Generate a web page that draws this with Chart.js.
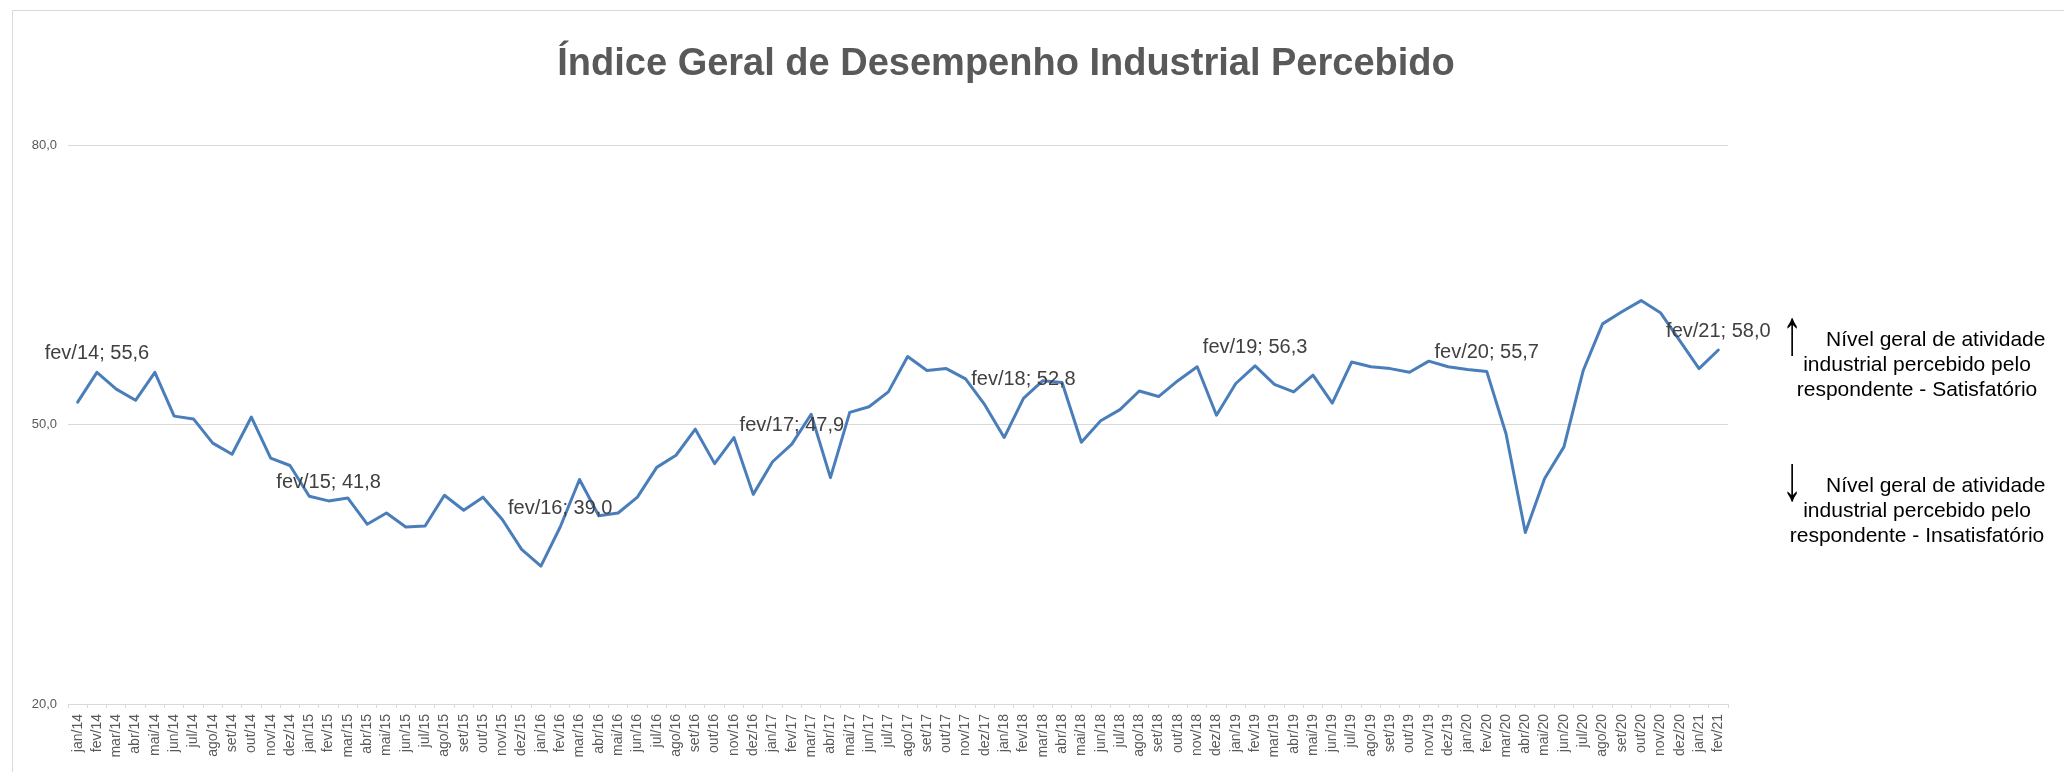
<!DOCTYPE html>
<html lang="pt-BR">
<head>
<meta charset="utf-8">
<title>Índice Geral de Desempenho Industrial Percebido</title>
<script src="https://cdn.jsdelivr.net/npm/chart.js@4.4.1/dist/chart.umd.min.js"></script>
<style>
    html, body { margin: 0; padding: 0; background: #fff; }
    #wrap { position: relative; width: 2064px; height: 772px; }
</style>
</head>
<body>
<div id="wrap"><canvas id="chart"></canvas></div>
<script>
// Eixo X: meses e anos
const monthNames = ['jan', 'fev', 'mar', 'abr', 'mai', 'jun', 'jul', 'ago', 'set', 'out', 'nov', 'dez'];
const years = ['14', '15', '16', '17', '18', '19', '20', '21'];

// Índice por ano (jan..dez)
const values2014 = [52.4, 55.6, 53.8, 52.6, 55.6, 50.9, 50.6, 48.0, 46.8, 50.8, 46.4, 45.6];
const values2015 = [42.3, 41.8, 42.1, 39.3, 40.5, 39.0, 39.1, 42.4, 40.8, 42.2, 39.8, 36.6];
const values2016 = [34.8, 39.0, 44.1, 40.2, 40.5, 42.2, 45.4, 46.7, 49.5, 45.8, 48.6, 42.5];
const values2017 = [46.0, 47.9, 51.1, 44.3, 51.3, 51.9, 53.5, 57.3, 55.8, 56.0, 54.9, 52.1];
const values2018 = [48.6, 52.8, 54.7, 54.5, 48.1, 50.4, 51.6, 53.6, 53.0, 54.7, 56.2, 51.0];
const values2019 = [54.4, 56.3, 54.3, 53.5, 55.3, 52.3, 56.7, 56.2, 56.0, 55.6, 56.8, 56.2];
const values2020 = [55.9, 55.7, 49.0, 38.4, 44.2, 47.6, 55.8, 60.8, 62.1, 63.3, 62.0, 59.0];
const values2021 = [56.0, 58.0];

// Eixo Y
const yTicks = [20, 50, 80];

// Pontos com rótulo
const labelledMonths = ['fev/14', 'fev/15', 'fev/16', 'fev/17', 'fev/18', 'fev/19', 'fev/20', 'fev/21'];

// Textos
const chartTitle = 'Índice Geral de Desempenho Industrial Percebido';
const noteUp = ['Nível geral de atividade', 'industrial percebido pelo', 'respondente - Satisfatório'];
const noteDown = ['Nível geral de atividade', 'industrial percebido pelo', 'respondente - Insatisfatório'];

const values = [].concat(values2014, values2015, values2016, values2017, values2018, values2019, values2020, values2021);
const categories = [];
years.forEach(y => monthNames.forEach(m => categories.push(m + '/' + y)));
categories.length = values.length;

const FONT = '"Liberation Sans", Arial, sans-serif';
const fmt = v => Number(v).toFixed(1).replace('.', ',');

// Title, border, data labels, side notes
const decorPlugin = {
    id: 'decor',
    beforeDraw(chart) {
        const c = chart.ctx;
        c.save();
        c.fillStyle = '#fff';
        c.fillRect(0, 0, chart.width, chart.height);
        c.strokeStyle = '#d9d9d9';
        c.lineWidth = 1;
        c.beginPath();
        c.moveTo(12.5, chart.height);
        c.lineTo(12.5, 10.5);
        c.lineTo(chart.width, 10.5);
        c.stroke();
        c.restore();
    },
    afterDatasetsDraw(chart) {
        const c = chart.ctx;
        const meta = chart.getDatasetMeta(0);
        c.save();
        c.font = '20px ' + FONT;
        c.fillStyle = '#404040';
        c.textAlign = 'center';
        c.textBaseline = 'alphabetic';
        meta.data.forEach((pt, i) => {
            if (!labelledMonths.includes(categories[i])) return;
            c.fillText(categories[i] + '; ' + fmt(values[i]), pt.x, pt.y - 13);
        });
        c.restore();
    },
    afterDraw(chart) {
        const c = chart.ctx;
        c.save();
        // title
        c.font = 'bold 38px ' + FONT;
        c.fillStyle = '#595959';
        c.textAlign = 'center';
        c.textBaseline = 'alphabetic';
        c.fillText(chartTitle, 1006, 75);

        // side notes
        const drawNote = (arrow, lines, top) => {
            c.fillStyle = '#000';
            // tall arrow glyph
            c.save();
            c.translate(1792, top - 10);
            c.scale(1, 1.6);
            c.font = '40px ' + FONT;
            c.textAlign = 'center';
            c.textBaseline = 'middle';
            c.fillText(arrow, 0, 0);
            c.restore();

            c.textBaseline = 'alphabetic';
            c.font = '21px ' + FONT;
            c.textAlign = 'left';
            c.fillText(lines[0], 1826, top);
            c.textAlign = 'center';
            c.fillText(lines[1], 1917, top + 25);
            c.fillText(lines[2], 1917, top + 50);
        };
        drawNote('↑', noteUp, 346);
        drawNote('↓', noteDown, 492);
        c.restore();
    }
};

Chart.defaults.font.family = FONT;

const ctx = document.getElementById('chart').getContext('2d');
const chart = new Chart(ctx, {
    type: 'line',
    data: {
        labels: categories,
        datasets: [{
            label: 'Índice',
            data: values,
            borderColor: '#4a7ebb',
            borderWidth: 3,
            borderJoinStyle: 'round',
            borderCapStyle: 'round',
            pointRadius: 0,
            pointHoverRadius: 0,
            tension: 0,
            fill: false
        }]
    },
    options: {
        responsive: true,
        maintainAspectRatio: false,
        animation: false,
        devicePixelRatio: 1,
        layout: { padding: { left: 0, top: 145, right: 336, bottom: 0 } },
        plugins: {
            legend: { display: false },
            title: { display: false },
            tooltip: { enabled: false }
        },
        scales: {
            x: {
                offset: true,
                grid: { display: true, drawOnChartArea: false, drawTicks: true, tickLength: 4, offset: true, color: '#d9d9d9' },
                border: { display: true, color: '#d9d9d9', width: 1 },
                ticks: {
                    autoSkip: false,
                    maxRotation: 90,
                    minRotation: 90,
                    padding: 6,
                    color: '#595959',
                    font: { size: 14 }
                },
                afterFit: s => { s.height = 68; }
            },
            y: {
                min: 20,
                max: 80,
                afterBuildTicks: s => { s.ticks = yTicks.map(v => ({ value: v })); },
                border: { display: false },
                grid: { color: '#d9d9d9', lineWidth: 1, drawTicks: false },
                ticks: {
                    padding: 11,
                    color: '#595959',
                    font: { size: 13 },
                    callback: v => fmt(v)
                },
                afterFit: s => { s.width = 68; }
            }
        }
    },
    plugins: [decorPlugin]
});
</script>
</body>
</html>
